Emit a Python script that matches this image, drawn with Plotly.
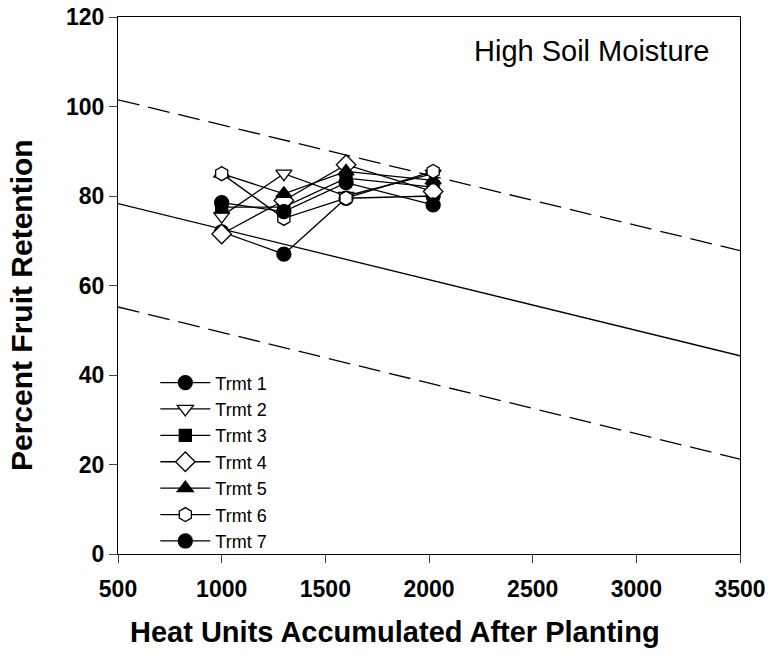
import plotly.graph_objects as go

heat_units = [1000, 1300, 1600, 2020]
trmt_names = ["Trmt 1", "Trmt 2", "Trmt 3", "Trmt 4", "Trmt 5", "Trmt 6", "Trmt 7"]
trmt1 = [72, 67, 79.5, 80]
trmt2 = [75.5, 85, 80, 85]
trmt3 = [77.5, 77.5, 84, 82]
trmt4 = [71.5, 79, 87, 81]
trmt5 = [85, 80.5, 85.5, 83.5]
trmt6 = [85, 75, 79.5, 85.5]
trmt7 = [78.5, 76.5, 83, 78]
series = [trmt1, trmt2, trmt3, trmt4, trmt5, trmt6, trmt7]

reg_x = [500, 3500]
reg_fit = [78.3, 44.3]
reg_upper = [101.5, 67.8]
reg_lower = [55.2, 21.2]

x_ticks = [500, 1000, 1500, 2000, 2500, 3000, 3500]
y_ticks = [0, 20, 40, 60, 80, 100, 120]

symbols = ["circle", "triangle-down", "square", "diamond",
           "triangle-up", "hexagon", "circle"]
fills = ["black", "white", "black", "white", "black", "white", "black"]
sizes = [14, 14, 12, 15, 14, 14, 14]

fig = go.Figure()

fig.add_trace(go.Scatter(x=reg_x, y=reg_fit, mode="lines",
                         line=dict(color="black", width=1.3), showlegend=False))
for yy in (reg_upper, reg_lower):
    fig.add_trace(go.Scatter(x=reg_x, y=yy, mode="lines",
                             line=dict(color="black", width=1.3, dash="22px,9px"),
                             showlegend=False))

for name, vals, sym, fc, sz in zip(trmt_names, series, symbols, fills, sizes):
    fig.add_trace(go.Scatter(
        x=heat_units, y=vals, mode="lines+markers", name=name,
        line=dict(color="black", width=1.3),
        marker=dict(symbol=sym, size=sz, color=fc,
                    line=dict(color="black", width=1.3)),
    ))

tick_font = dict(size=23, family="Liberation Sans, Arial", weight="bold")
fig.update_layout(
    width=768, height=660,
    margin=dict(l=118, r=28, t=17, b=106),
    plot_bgcolor="white", paper_bgcolor="white",
    font=dict(family="Liberation Sans, Arial, sans-serif", color="black"),
    xaxis=dict(range=[500, 3500], tickvals=x_ticks, ticks="outside", ticklen=8,
               tickwidth=1, showline=True, linecolor="black", linewidth=1, mirror=True,
               showgrid=False, zeroline=False, automargin=False,
               ticklabelstandoff=6, tickfont=tick_font),
    yaxis=dict(range=[0, 120], tickvals=y_ticks, ticks="outside", ticklen=8,
               tickwidth=1, showline=True, linecolor="black", linewidth=1, mirror=True,
               showgrid=False, zeroline=False, automargin=False,
               tickfont=tick_font),
    legend=dict(x=0.06, y=-0.01, xanchor="left", yanchor="bottom",
                bgcolor="rgba(0,0,0,0)", font=dict(size=18), tracegroupgap=0,
                itemwidth=50),
    annotations=[
        dict(text="High Soil Moisture", x=0.953, y=0.97, xref="paper",
             yref="paper", xanchor="right", yanchor="top", showarrow=False,
             font=dict(size=29)),
        dict(text="<b>Heat Units Accumulated After Planting</b>", x=0.445, y=-0.145,
             xref="paper", yref="paper", xanchor="center", yanchor="middle",
             showarrow=False, font=dict(size=29)),
        dict(text="<b>Percent Fruit Retention</b>", x=-0.154, y=0.464,
             xref="paper", yref="paper", xanchor="center", yanchor="middle",
             textangle=-90, showarrow=False, font=dict(size=30)),
    ],
)

fig.write_html("out.html")
